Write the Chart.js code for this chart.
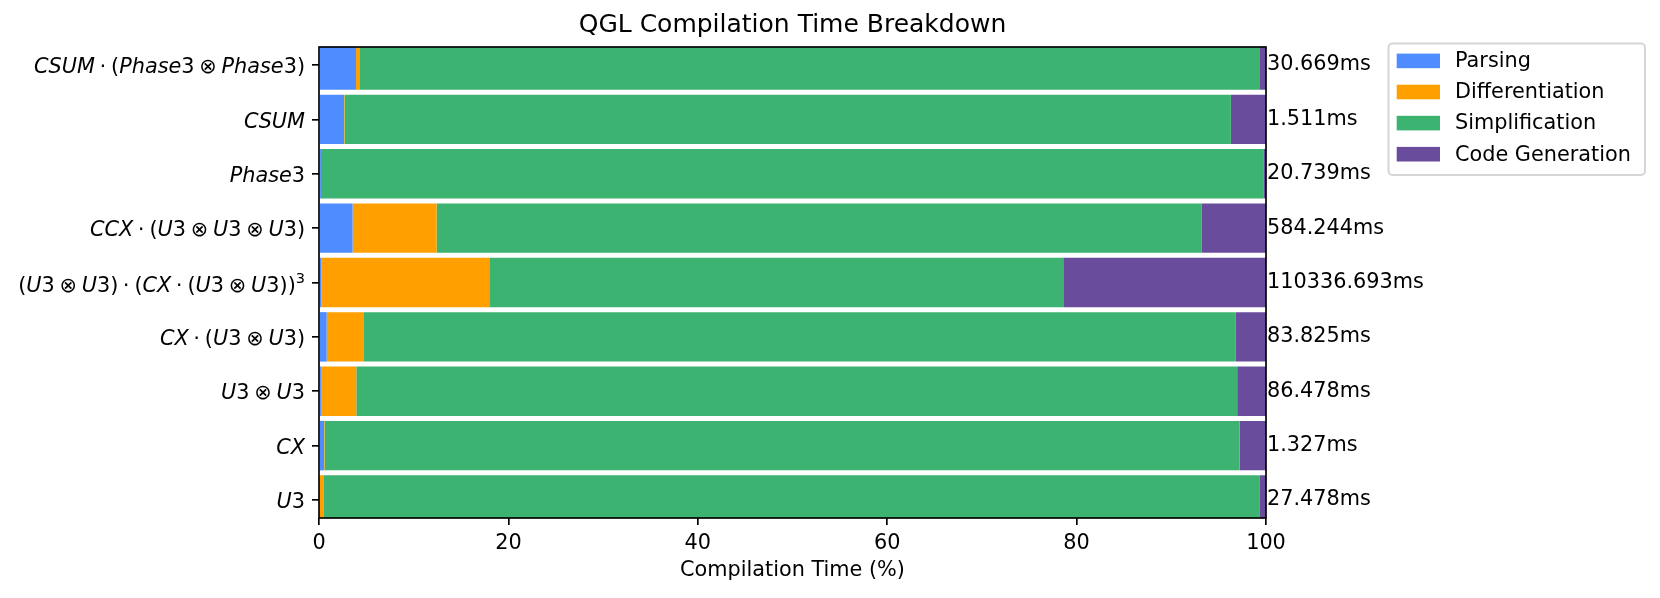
<!DOCTYPE html>
<html>
<head>
<meta charset="utf-8">
<script src="https://cdn.jsdelivr.net/npm/chart.js@4.4.1/dist/chart.umd.min.js"></script>
<style>
html,body{margin:0;padding:0;background:#ffffff;}
canvas{display:block;}
</style>
</head>
<body>
<canvas id="c" width="1660" height="598" style="width:1660px;height:598px"></canvas>
<script>
// ---------------- data ----------------
const categories = [
  "CSUM·(Phase3⊗Phase3)",
  "CSUM",
  "Phase3",
  "CCX·(U3⊗U3⊗U3)",
  "(U3⊗U3)·(CX·(U3⊗U3))³",
  "CX·(U3⊗U3)",
  "U3⊗U3",
  "CX",
  "U3"
];
const totalLabels = ["30.669ms","1.511ms","20.739ms","584.244ms","110336.693ms","83.825ms","86.478ms","1.327ms","27.478ms"];
const parsing         = [3.91, 2.64, 0.20, 3.55, 0.25, 0.81, 0.20, 0.53, 0.05];
const differentiation = [0.42, 0.05, 0.00, 8.87, 17.73, 3.87, 3.74, 0.05, 0.41];
const simplification  = [94.96, 93.60, 99.58, 80.81, 60.61, 92.14, 93.02, 96.63, 98.90];
const codeGeneration  = [0.71, 3.71, 0.22, 6.77, 21.41, 3.18, 3.04, 2.79, 0.64];
const xTicks = [0, 20, 40, 60, 80, 100];
const seriesNames = ["Parsing", "Differentiation", "Simplification", "Code Generation"];
const titleText = "QGL Compilation Time Breakdown";
const xTitle = "Compilation Time (%)";

// ---------------- styles ----------------
const seriesColors = ["#4e8cff", "#ffa000", "#3cb371", "#6a4c9c"];
const FONT = '"DejaVu Sans"';
const FS = 20.8;
const LW = 1.67;

Chart.defaults.font.family = FONT;
Chart.defaults.color = '#000000';

const toPoints = arr => arr.map((v, i) => ({x: v, y: i}));
const seriesValues = [parsing, differentiation, simplification, codeGeneration];

const datasets = seriesValues.map((vals, k) => ({
  label: seriesNames[k],
  data: toPoints(vals),
  backgroundColor: seriesColors[k],
  borderWidth: 0,
  barPercentage: 0.91,
  categoryPercentage: 1.0,
  clip: 0
}));

const rowTicks = scale => { scale.ticks = categories.map((_, i) => ({value: i})); };

// math-style label drawing (italic letters, upright digits/symbols)
function drawMathLabel(ctx, text, xRight, yTick) {
  const runs = [];
  let hasSup = false;
  for (const ch of text) {
    if (/[A-Za-z]/.test(ch)) runs.push({t: ch, font: `italic ${FS}px ${FONT}`, dy: 0, pad: 0});
    else if (ch === '·') runs.push({t: '\u22C5', font: `${FS}px ${FONT}`, dy: 0, pad: 0.23 * FS});
    else if (ch === '⊗') runs.push({t: '\u2297', font: `${FS}px ${FONT}`, dy: 0, pad: 0.23 * FS});
    else if (ch === '³') { hasSup = true; runs.push({t: '3', font: `${FS * 0.7}px ${FONT}`, dy: -0.4 * FS, pad: 0}); }
    else runs.push({t: ch, font: `${FS}px ${FONT}`, dy: 0, pad: 0});
  }
  let total = 0;
  for (const r of runs) { ctx.font = r.font; r.w = ctx.measureText(r.t).width; total += r.w + 2 * r.pad; }
  const base = yTick + (hasSup ? 9.3 : 8.2);
  let x = xRight - total;
  ctx.textAlign = 'left';
  ctx.textBaseline = 'alphabetic';
  ctx.fillStyle = '#000000';
  for (const r of runs) {
    x += r.pad;
    ctx.font = r.font;
    ctx.fillText(r.t, x, base + r.dy);
    x += r.w + r.pad;
  }
}

const decorPlugin = {
  id: 'decor',
  afterDatasetsDraw(chart) {
    const {ctx, chartArea: a} = chart;
    ctx.save();
    ctx.strokeStyle = '#000000';
    ctx.lineWidth = LW;
    ctx.strokeRect(a.left, a.top, a.right - a.left, a.bottom - a.top);
    ctx.restore();
  },
  afterDraw(chart) {
    const {ctx} = chart;
    const ys = chart.scales.y;
    ctx.save();
    // left category labels
    categories.forEach((lab, i) => {
      drawMathLabel(ctx, lab, ys.right - 7 - 7, ys.getPixelForValue(i));
    });
    // legend
    const bx = 1388.5, by = 43.5, bw = 256.5, bh = 131.5;
    ctx.beginPath();
    ctx.roundRect(bx, by, bw, bh, 4);
    ctx.fillStyle = 'rgba(255,255,255,0.8)';
    ctx.fill();
    ctx.strokeStyle = '#d5d5d5';
    ctx.lineWidth = 2;
    ctx.stroke();
    ctx.font = `${FS}px ${FONT}`;
    ctx.textAlign = 'left';
    ctx.textBaseline = 'middle';
    seriesNames.forEach((name, k) => {
      const cy = 60.9 + k * 31.1;
      ctx.fillStyle = seriesColors[k];
      ctx.fillRect(1396.7, cy - 7.3, 43.3, 14.6);
      ctx.fillStyle = '#000000';
      ctx.fillText(name, 1455, cy + 1);
    });
    ctx.restore();
  }
};

new Chart(document.getElementById('c'), {
  type: 'bar',
  data: { datasets },
  plugins: [decorPlugin],
  options: {
    responsive: false,
    animation: false,
    indexAxis: 'y',
    layout: { padding: 0 },
    plugins: {
      legend: { display: false },
      tooltip: { enabled: false },
      title: {
        display: true,
        text: titleText,
        fullSize: false,
        color: '#000000',
        font: { size: 25, weight: 'normal', family: FONT, lineHeight: 1.2 },
        padding: { top: 10, bottom: 7 }
      }
    },
    scales: {
      x: {
        type: 'linear',
        stacked: true,
        min: 0, max: 100,
        offset: false,
        afterBuildTicks: s => { s.ticks = xTicks.map(v => ({value: v})); },
        afterFit: s => { s.height = 80; },
        border: { display: false },
        grid: { offset: false, drawOnChartArea: false, drawTicks: true, tickLength: 7, tickColor: '#000000', tickWidth: LW, lineWidth: LW, color: '#000000' },
        ticks: { color: '#000000', font: { size: FS, family: FONT }, padding: 6, maxRotation: 0, autoSkip: false },
        title: { display: true, text: xTitle, color: '#000000', font: { size: FS, family: FONT, lineHeight: 1.2 }, padding: { top: 0, bottom: 15 } }
      },
      y: {
        type: 'linear',
        position: 'left',
        stacked: true,
        reverse: true,
        offset: false,
        min: -0.331, max: 8.331,
        afterBuildTicks: rowTicks,
        afterFit: s => { s.width = 319; },
        border: { display: false },
        grid: { offset: false, drawOnChartArea: false, drawTicks: true, tickLength: 7, tickColor: '#000000', tickWidth: LW, lineWidth: LW, color: '#000000' },
        ticks: { display: false }
      },
      yR: {
        type: 'linear',
        position: 'right',
        reverse: true,
        offset: false,
        min: -0.331, max: 8.331,
        afterBuildTicks: rowTicks,
        afterFit: s => { s.width = 394; },
        border: { display: false },
        grid: { display: false, offset: false, drawTicks: false, drawOnChartArea: false },
        ticks: { color: '#000000', font: { size: FS, family: FONT }, padding: 1, autoSkip: false,
                 callback: v => totalLabels[v] }
      }
    }
  }
});
</script>
</body>
</html>
